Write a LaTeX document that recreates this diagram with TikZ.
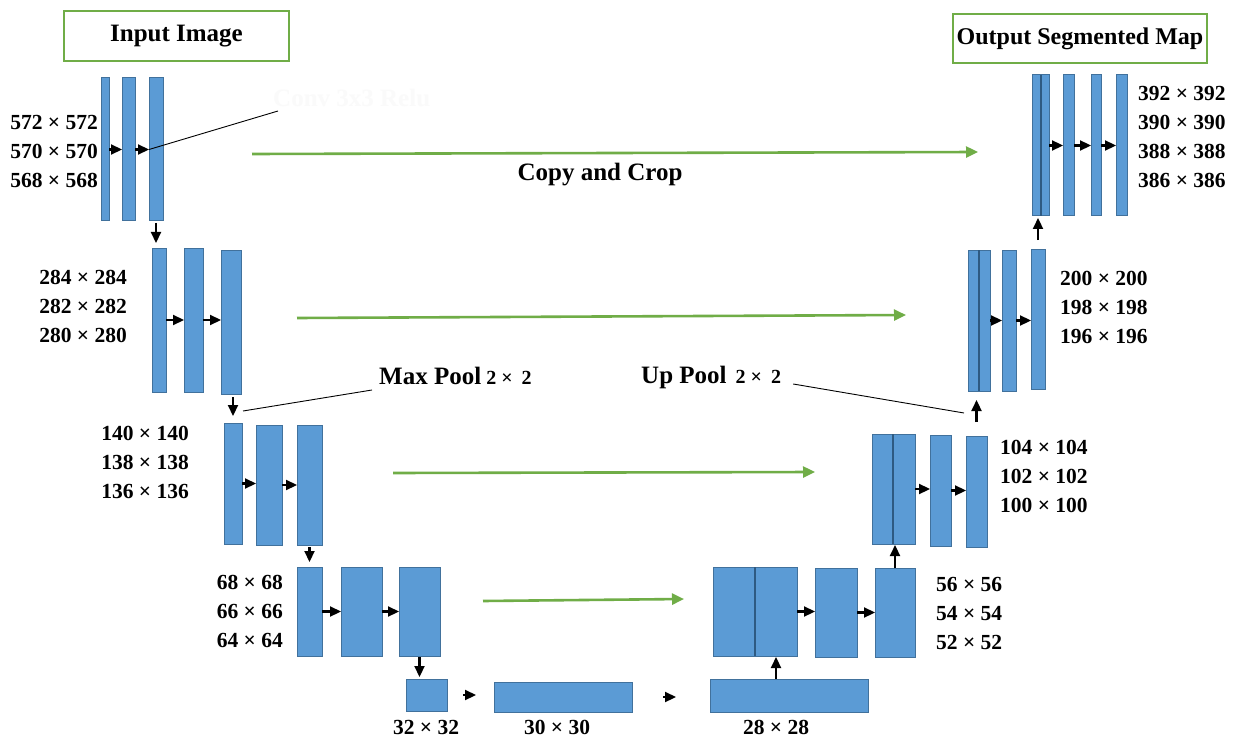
\documentclass[tikz,border=0pt]{standalone}
\usepackage{fontspec}
\setmainfont{Liberation Serif}
\usetikzlibrary{arrows.meta}
\definecolor{ublue}{HTML}{5B9BD5}
\definecolor{uborder}{HTML}{41719C}
\definecolor{udiv}{HTML}{2E5A82}
\definecolor{ugreen}{HTML}{70AD47}
\tikzset{
 blk/.style={draw=uborder, fill=ublue, line width=1pt, inner sep=0pt, outer sep=0pt},
 conv/.style={-{Triangle[length=11pt,width=10pt]}, line width=2.2pt, black},
 copyarr/.style={-{Triangle[length=12pt,width=11pt]}, line width=2.6pt, ugreen},
 lead/.style={line width=0.9pt, black},
 divline/.style={draw=udiv, line width=1.3pt},
 dims/.style={font=\bfseries\fontsize{21.5}{29}\selectfont, inner sep=0pt, align=right},
 dimsr/.style={dims, align=left},
 titlefont/.style={font=\bfseries\fontsize{25}{30}\selectfont},
 titlebox/.style={draw=ugreen, line width=1.2pt, fill=white, titlefont, inner sep=0pt},
}
\newcommand{\ublk}[5]{\node[blk, minimum width={(#4)-(#2)}, minimum height={(#5)-(#3)}] (#1) at ({((#2)+(#4))/2},{((#3)+(#5))/2}) {};}
\begin{document}
\begin{tikzpicture}[x=1pt,y=-1pt]
\fill[white] (0,0) rectangle (1234,738);
\useasboundingbox (0,0) rectangle (1234,738);

% titles
\node[titlebox, minimum width=225, minimum height=50] (inp) at (176.5,36) {Input Image};
\node[titlebox, minimum width=254, minimum height=49, font=\bfseries\fontsize{24}{28}\selectfont] (outp) at (1080,38.5) {Output Segmented Map};

% contracting path
\ublk{a1}{101}{78}{109}{221}
\ublk{a2}{122}{78}{135}{221}
\ublk{a3}{149}{78}{163}{221}
\ublk{b1}{152}{248}{166}{392}
\ublk{b2}{184}{248}{203}{392}
\ublk{b3}{221}{250}{241}{394}
\ublk{c1}{224}{423}{242}{544}
\ublk{c2}{256}{425}{282}{545}
\ublk{c3}{297}{425}{322}{545}
\ublk{d1}{297}{567}{322}{656}
\ublk{d2}{341}{567}{382}{656}
\ublk{d3}{399}{567}{440}{656}
% bottleneck
\ublk{e1}{406}{679}{447}{711}
\ublk{e2}{494}{682}{632}{712}
\ublk{e3}{710}{679}{868}{712}
% expanding path
\ublk{f1a}{713}{567}{755}{656}
\ublk{f1b}{755}{567}{797}{656}
\ublk{f2}{815}{568}{857}{657}
\ublk{f3}{875}{568}{915}{657}
\ublk{g1a}{872}{434}{893}{544}
\ublk{g1b}{893}{434}{915}{544}
\ublk{g2}{930}{435}{951}{546}
\ublk{g3}{966}{436}{987}{547}
\ublk{h1a}{968}{250}{979}{391}
\ublk{h1b}{979}{250}{990}{391}
\ublk{h2}{1002}{250}{1016}{391}
\ublk{h3}{1031}{249}{1045}{389}
\ublk{i1a}{1032}{75}{1041}{216}
\ublk{i1b}{1041}{75}{1049}{216}
\ublk{i2}{1063}{75}{1074}{216}
\ublk{i3}{1091}{75}{1101}{216}
\ublk{i4}{1116}{75}{1127}{216}
\foreach \n in {f1a,g1a,h1a,i1a}{\draw[divline] (\n.north east) -- (\n.south east);}

% convolution arrows
\foreach \p/\q in {a1/a2,a2/a3,b1/b2,b2/b3,c1/c2,c2/c3,d1/d2,d2/d3,f1b/f2,f2/f3,g1b/g2,g2/g3,h1b/h2,h2/h3,i1b/i2,i2/i3,i3/i4}
  {\draw[conv] (\p.east) -- (\p.east -| \q.west);}
\draw[conv, shorten <=16pt, shorten >=18pt] (e1.east) -- (e1.east -| e2.west);
\draw[conv, shorten <=31pt, shorten >=34pt] (e2.east) -- (e2.east -| e3.west);

% pooling arrows
\draw[conv, shorten <=2pt, shorten >=5pt] (a3.south) -- (a3.south |- b1.north);
\draw[conv, shorten <=3pt, shorten >=7pt] (c1.north |- b3.south) -- (c1.north);
\draw[conv, shorten <=2pt, shorten >=5pt] (c3.south) -- (c3.south |- d1.north);
\draw[conv, shorten <=1pt, shorten >=2pt] (d3.south) -- (d3.south |- e1.north);
% up-sampling arrows
\draw[conv, shorten >=1pt] (f1b.south |- e3.north) -- (f1b.south);
\draw[conv, shorten >=1pt] (f3.north) -- (f3.north |- g1b.south);
\draw[conv, shorten <=14pt, shorten >=9pt] (g3.north) -- (g3.north |- h1b.south);
\draw[conv, shorten <=9pt, shorten >=2pt] (h3.north) -- (h3.north |- i1b.south);

% copy and crop arrows
\coordinate (s1) at (252,154); \coordinate (t1) at (978,152);
\coordinate (s2) at (297,318); \coordinate (t2) at (906,315);
\coordinate (s3) at (393,473); \coordinate (t3) at (815,472);
\coordinate (s4) at (483,601); \coordinate (t4) at (684,599);
\draw[copyarr] (s1) -- (t1);
\draw[copyarr] (s2) -- (t2);
\draw[copyarr] (s3) -- (t3);
\draw[copyarr] (s4) -- (t4);
\node[titlefont, inner sep=0pt] (cc) at (600,175) {Copy and Crop};

% dimension labels
\node[dims, anchor=east] (la) at (98,151) {572 × 572\\570 × 570\\568 × 568};
\node[dims, anchor=east] (lb) at (127,306) {284 × 284\\282 × 282\\280 × 280};
\node[dims, anchor=east] (lc) at (189,462) {140 × 140\\138 × 138\\136 × 136};
\node[dims, anchor=east] (ld) at (283,611) {68 × 68\\66 × 66\\64 × 64};
\node[dimsr, anchor=west] (ri) at (1138,137) {392 × 392\\390 × 390\\388 × 388\\386 × 386};
\node[dimsr, anchor=west] (rh) at (1060,307) {200 × 200\\198 × 198\\196 × 196};
\node[dimsr, anchor=west] (rg) at (1000,476) {104 × 104\\102 × 102\\100 × 100};
\node[dimsr, anchor=west] (rf) at (936,613) {56 × 56\\54 × 54\\52 × 52};
\node[dims] (le1) at (426,727) {32 × 32};
\node[dims] (le2) at (557,727) {30 × 30};
\node[dims] (le3) at (776,727) {28 × 28};

% operation labels
\node[titlefont, text=black!2, anchor=west, inner sep=0pt] (cv) at (273,98) {Conv 3x3 Relu};
\draw[lead] ([xshift=5pt,yshift=-13pt]cv.west) -- (a3.west);
\node[titlefont, anchor=base west, inner sep=0pt] (mp) at (379,384) {Max Pool\hspace{5pt}{\fontsize{20}{24}\selectfont 2 ×\hspace{9pt}2}};
\coordinate (mpt) at (243,411);
\draw[lead] (mpt) -- ([xshift=-7pt,yshift=-6pt]mp.base west);
\node[titlefont, anchor=base west, inner sep=0pt] (up) at (641,383) {Up Pool\hspace{9pt}{\fontsize{20}{24}\selectfont 2 ×\hspace{9pt}2}};
\coordinate (upt) at (964,413);
\draw[lead] ([xshift=12pt,yshift=-1pt]up.base east) -- (upt);
\end{tikzpicture}
\end{document}
